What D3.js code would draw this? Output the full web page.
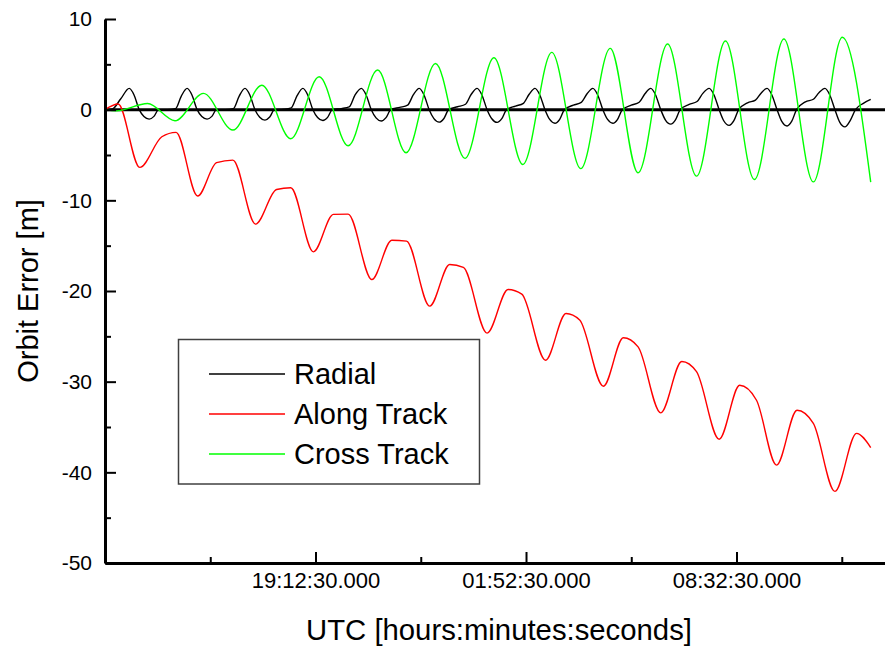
<!DOCTYPE html>
<html>
<head>
<meta charset="utf-8">
<title>Orbit Error</title>
<style>
  body { margin: 0; background: #fff; }
  text { font-family: "Liberation Sans", Arial, sans-serif; fill: #000; }
</style>
</head>
<body>
<script src="https://cdnjs.cloudflare.com/ajax/libs/d3/7.9.0/d3.min.js"></script>
<script>

const width = 885;
const height = 646;

// time axis in minutes after 12:32:30 UTC
const xMajor = [400, 800, 1200];
const xLabels = ["19:12:30.000", "01:52:30.000", "08:32:30.000"];
const xMinor = [200, 600, 1000, 1400];
const yMajor = [10, 0, -10, -20, -30, -40, -50];
const yMinor = [5, -5, -15, -25, -35, -45];

// [minute, metres]
const radial = [
    [0,0],[14,0.08],[30,1.2],[46,2.35],
    [55,1.65],[65,0],[74,-0.75],[84,-1.04],[93,-0.74],[102,0],[119,0],[134,0.1],[145,1.5],[156,2.35],
    [165,1.65],[175,0],[184,-0.75],[194,-1.04],[203,-0.74],[212,0],[229,0],[244,0.12],[255,1.5],[266,2.35],
    [275,1.65],[285,0],[294,-0.83],[304,-1.15],[313,-0.81],[322,0],[339,0.05],[354,0.2],[365,1.55],[376,2.35],
    [385,1.65],[395,0],[404,-0.86],[414,-1.2],[423,-0.85],[432,0],[449,0.12],[464,0.3],[475,1.6],[487,2.35],
    [496,1.65],[506,0],[515,-0.9],[525,-1.25],[534,-0.88],[543,0],[560,0.25],[575,0.5],[586,1.65],[597,2.35],
    [606,1.65],[616,0],[625,-0.98],[635,-1.37],[644,-0.97],[653,0],[670,0.32],[685,0.6],[696,1.7],[707,2.35],
    [716,1.65],[726,0],[735,-1.0],[745,-1.4],[754,-0.99],[763,0],[780,0.4],[795,0.7],[806,1.7],[817,2.35],
    [826,1.65],[836,0],[845,-1.08],[855,-1.5],[864,-1.06],[873,0],[890,0.5],[905,0.8],[916,1.75],[927,2.35],
    [936,1.65],[946,0],[955,-1.08],[965,-1.5],[974,-1.06],[983,0],[1000,0.5],[1015,0.82],[1026,1.75],[1037,2.35],
    [1046,1.65],[1056,0],[1065,-1.15],[1075,-1.6],[1084,-1.13],[1093,0],[1110,0.58],[1125,0.9],[1136,1.8],[1148,2.35],
    [1157,1.65],[1167,0],[1176,-1.25],[1186,-1.73],[1195,-1.22],[1204,0],[1221,0.76],[1236,1.05],[1247,1.85],[1258,2.35],
    [1267,1.65],[1277,0],[1286,-1.3],[1296,-1.8],[1305,-1.27],[1314,0],[1331,0.87],[1346,1.15],[1357,1.9],[1368,2.35],
    [1377,1.65],[1387,0],[1396,-1.37],[1406,-1.9],[1416,-1.2],[1426,0],[1441,0.7],[1455,1.13]
];

const alongTrack = [
    [0,0],[25,0.62],[66,-6.37],[108,-2.99],[135,-2.5],
    [176,-9.53],[212,-5.85],[243,-5.56],
    [286,-12.62],[326,-8.8],[353,-8.62],
    [396,-15.68],[434,-11.55],[462,-11.52],
    [507,-18.73],[545,-14.4],[573,-14.5],
    [617,-21.67],[655,-17.07],[681,-17.4],
    [726,-24.65],[766,-19.83],[792,-20.35],
    [837,-27.63],[876,-22.48],[902,-23.2],
    [947,-30.5],[985,-25.16],[1013,-26.16],
    [1056,-33.44],[1096,-27.78],[1124,-28.9],
    [1167,-36.35],[1206,-30.4],[1238,-32.05],
    [1276,-39.2],[1315,-33.15],[1346,-34.6],
    [1387,-42.1],[1428,-35.7],[1455,-37.27]
];

const crossTrack = [
    [0,0],[22,-0.13],[81,0.68],[133,-1.22],[187,1.8],[243,-2.25],
    [298,2.7],[353,-3.2],[407,3.63],[462,-3.98],[518,4.37],[572,-4.75],
    [628,5.1],[684,-5.37],[739,5.73],[794,-6.04],[849,6.32],[904,-6.5],
    [960,6.76],[1013,-6.96],[1069,7.24],[1124,-7.33],[1179,7.57],[1234,-7.7],
    [1290,7.79],[1346,-7.96],[1401,7.98],[1455,-8.0]
];

const series = [
    {name: "Radial", color: "#000000", data: radial},
    {name: "Along Track", color: "#ff0000", data: alongTrack},
    {name: "Cross Track", color: "#00ff00", data: crossTrack}
];

const svg = d3.select("body")
    .append("svg")
    .attr("width", width)
    .attr("height", height);

const x = d3.scaleLinear()
    .domain([0, 1500])
    .range([105, 894.4]);

const y = d3.scaleLinear()
    .domain([-50, 10])
    .range([563, 19]);

// zero line
svg.append("line")
    .attr("x1", x(0))
    .attr("x2", x(1500))
    .attr("y1", y(0))
    .attr("y2", y(0))
    .attr("stroke", "#000")
    .attr("stroke-width", 3);

const line = d3.line()
    .x(d => x(d[0]))
    .y(d => y(d[1]))
    .curve(d3.curveMonotoneX);

svg.selectAll(".series")
    .data(series)
    .enter()
    .append("path")
    .attr("class", "series")
    .attr("d", d => line(d.data))
    .attr("fill", "none")
    .attr("stroke", d => d.color)
    .attr("stroke-width", 1.4);

// x axis
const gx = svg.append("g")
    .attr("transform", `translate(0,${y(-50)})`)
    .call(d3.axisBottom(x)
        .tickValues(xMajor)
        .tickSize(-11)
        .tickSizeOuter(0)
        .tickPadding(9)
        .tickFormat((d, i) => xLabels[i]));

svg.append("g")
    .attr("transform", `translate(0,${y(-50)})`)
    .call(d3.axisBottom(x).tickValues(xMinor).tickSize(-6).tickFormat(""))
    .call(g => g.select(".domain").remove());

// y axis
const gy = svg.append("g")
    .attr("transform", `translate(${x(0)},0)`)
    .call(d3.axisLeft(y)
        .tickValues(yMajor)
        .tickSize(-11)
        .tickSizeOuter(0)
        .tickPadding(13)
        .tickFormat(d => String(d)));

svg.append("g")
    .attr("transform", `translate(${x(0)},0)`)
    .call(d3.axisLeft(y).tickValues(yMinor).tickSize(-6).tickFormat(""))
    .call(g => g.select(".domain").remove());

svg.selectAll(".domain").attr("stroke-width", 3).attr("stroke", "#000");
svg.selectAll(".tick line").attr("stroke-width", 2).attr("stroke", "#000");
gx.selectAll(".tick text").attr("font-size", 22).attr("font-family", null);
gy.selectAll(".tick text").attr("font-size", 21).attr("font-family", null);

// axis titles
svg.append("text")
    .attr("transform", `translate(38,${(y(10) + y(-50)) / 2}) rotate(-90)`)
    .attr("text-anchor", "middle")
    .attr("font-size", 29)
    .text("Orbit Error [m]");

svg.append("text")
    .attr("x", 499)
    .attr("y", 640)
    .attr("text-anchor", "middle")
    .attr("font-size", 29.3)
    .text("UTC [hours:minutes:seconds]");

// legend
const legend = svg.append("g");

legend.append("rect")
    .attr("x", 178.5)
    .attr("y", 339.5)
    .attr("width", 301)
    .attr("height", 144.5)
    .attr("fill", "#fff")
    .attr("stroke", "#404040")
    .attr("stroke-width", 1.5);

const items = legend.selectAll(".item")
    .data(series)
    .enter()
    .append("g")
    .attr("class", "item")
    .attr("transform", (d, i) => `translate(0,${384 + i * 40})`);

items.append("line")
    .attr("x1", 209)
    .attr("x2", 285)
    .attr("y1", -10)
    .attr("y2", -10)
    .attr("stroke", d => d.color)
    .attr("stroke-width", 1.3);

items.append("text")
    .attr("x", 294)
    .attr("font-size", 29)
    .text(d => d.name);

</script>
</body>
</html>
